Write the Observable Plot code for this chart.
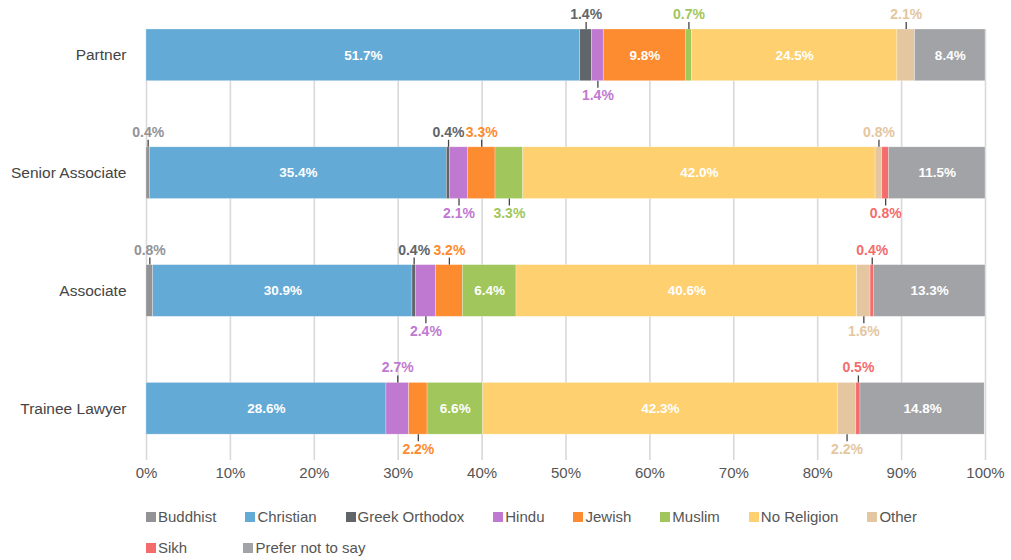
<!DOCTYPE html>
<html><head><meta charset="utf-8">
<script src="https://cdn.jsdelivr.net/npm/d3@7"></script>
<script src="https://cdn.jsdelivr.net/npm/@observablehq/plot@0.6"></script>
<style>
body{margin:0;background:#fff;font-family:"Liberation Sans",Arial,sans-serif;}
#chart svg{display:block}
#legend{padding-left:146px;margin-top:6px;color:#555;font-size:15px}
.row{display:flex;height:31px;align-items:center}
.item{display:flex;align-items:center;margin-right:29px;white-space:nowrap;flex-shrink:0}
.sw{width:10px;height:10px;margin-right:2px;flex-shrink:0}
</style></head><body>
<div id="chart"></div><div id="legend"></div>
<script>
const categories = ["Partner", "Senior Associate", "Associate", "Trainee Lawyer"];
const religions = ["Buddhist", "Christian", "Greek Orthodox", "Hindu", "Jewish", "Muslim", "No Religion", "Other", "Sikh", "Prefer not to say"];
const colors = ["#939396", "#64aad6", "#60656a", "#bf79d0", "#fd8b2f", "#a1c65b", "#fed070", "#e4c6a1", "#f46c6c", "#a1a3a6"];
const partner = [0, 51.7, 1.4, 1.4, 9.8, 0.7, 24.5, 2.1, 0, 8.4];
const seniorAssociate = [0.4, 35.4, 0.4, 2.1, 3.3, 3.3, 42.0, 0.8, 0.8, 11.5];
const associate = [0.8, 30.9, 0.4, 2.4, 3.2, 6.4, 40.6, 1.6, 0.4, 13.3];
const traineeLawyer = [0, 28.6, 0, 2.7, 2.2, 6.6, 42.3, 2.2, 0.5, 14.8];
// small-segment labels placed below the bar (others go above)
const partnerBelow = ["Hindu"];
const seniorAssociateBelow = ["Hindu", "Muslim", "Sikh"];
const associateBelow = ["Hindu", "Other"];
const traineeLawyerBelow = ["Jewish", "Other"];
const xTicks = [0, 10, 20, 30, 40, 50, 60, 70, 80, 90, 100];

const rows = [partner, seniorAssociate, associate, traineeLawyer];
const belows = [partnerBelow, seniorAssociateBelow, associateBelow, traineeLawyerBelow];
const data = [];
categories.forEach((cat, ci) => {
  let acc = 0;
  rows[ci].forEach((v, ri) => {
    const x1 = acc, x2 = acc + v; acc = x2;
    if (v > 0) data.push({cat, religion: religions[ri], value: v, x1, x2, mid: (x1 + x2) / 2,
      side: v >= 5 ? "in" : (belows[ci].includes(religions[ri]) ? "below" : "above")});
  });
});

const W = 1011, H = 495, mt = 29, mb = 42, ml = 146, mr = 26;
const yOpts = {type: "band", domain: categories, paddingInner: 0.561, paddingOuter: 0.08, align: 0, round: false};
const yScale = Plot.scale({y: {...yOpts, range: [mt, H - mb]}});
const bw = yScale.bandwidth;
const color = {domain: religions, range: colors};
const fmt = d => d.value.toFixed(1) + "%";
const above = data.filter(d => d.side === "above");
const below = data.filter(d => d.side === "below");
const inside = data.filter(d => d.side === "in");

const chart = Plot.plot({
  width: W, height: H, marginTop: mt, marginBottom: mb, marginLeft: ml, marginRight: mr,
  style: {fontFamily: "Liberation Sans, Arial, sans-serif", fontSize: "15px", color: "#555", background: "#fff"},
  x: {domain: [0, 100]},
  y: yOpts,
  color,
  marks: [
    Plot.gridX(xTicks, {stroke: "#d9d9d9", strokeOpacity: 1, strokeWidth: 1.6}),
    Plot.axisX(xTicks, {tickSize: 7, stroke: "#d9d9d9", strokeWidth: 1.6, tickPadding: 7, tickFormat: d => d + "%", fill: "#555", label: null, fontSize: 15}),
    Plot.axisY({tickSize: 0, tickPadding: 20, label: null, fill: "#444", fontSize: 15.5}),
    Plot.barX(data, {x1: "x1", x2: "x2", y: "cat", fill: "religion", stroke: "#fff", strokeWidth: 0.6, strokeOpacity: 0.45}),
    Plot.text(inside, {x: "mid", y: "cat", text: fmt, fill: "#fff", fontWeight: "bold", fontSize: 13.5}),
    Plot.ruleX(above, {x: "mid", y1: "cat", y2: "cat", insetTop: -7, insetBottom: bw, stroke: "#444", strokeWidth: 1.3}),
    Plot.ruleX(below, {x: "mid", y1: "cat", y2: "cat", insetTop: bw, insetBottom: -7, stroke: "#444", strokeWidth: 1.3}),
    Plot.text(above, {x: "mid", y: "cat", text: fmt, fill: "religion", fontWeight: "bold", fontSize: 14, dy: -(bw / 2 + 15)}),
    Plot.text(below, {x: "mid", y: "cat", text: fmt, fill: "religion", fontWeight: "bold", fontSize: 14, dy: bw / 2 + 14.5})
  ]
});
document.getElementById("chart").append(chart);

// legend
const legend = document.getElementById("legend");
const perRow = 8;
const rowEls = [];
for (let r = 0; r * perRow < religions.length; r++) {
  const row = document.createElement("div"); row.className = "row"; legend.append(row); rowEls.push(row);
  religions.slice(r * perRow, (r + 1) * perRow).forEach((name, i) => {
    const it = document.createElement("div"); it.className = "item";
    const sw = document.createElement("span"); sw.className = "sw"; sw.style.background = colors[r * perRow + i];
    const tx = document.createElement("span"); tx.textContent = name;
    it.append(sw, tx); row.append(it);
  });
}
const firstItems = [...rowEls[0].children];
rowEls.slice(1).forEach(row => [...row.children].forEach((it, i) => {
  if (i < row.children.length - 1) it.style.width = (firstItems[i].getBoundingClientRect().width - 2) + "px";
}));
</script>
</body></html>
